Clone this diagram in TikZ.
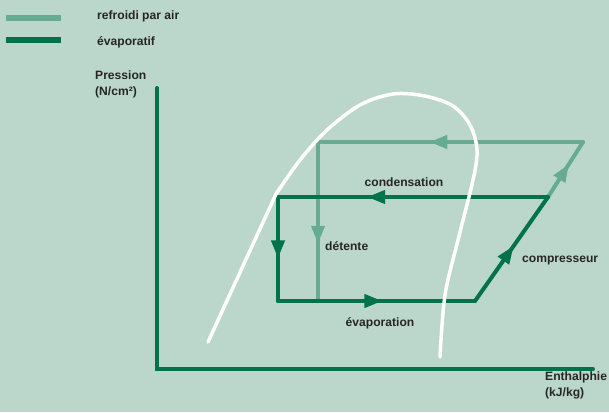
\documentclass[tikz,border=0pt]{standalone}
\usepackage{fontspec}
\setmainfont{Liberation Sans}
\usepackage{tikz}
\usetikzlibrary{arrows.meta, decorations.markings}
\definecolor{bgGreen}{HTML}{BBD7CB}
\definecolor{darkGreen}{HTML}{00734A}
\definecolor{lightGreen}{HTML}{66AB94}
\definecolor{labelGray}{HTML}{262626}
\tikzstyle{label_text} = [inner sep=0pt, text=labelGray, font=\fontsize{12.1}{16}\selectfont\bfseries, align=left]
\tikzstyle{dark_line} = [draw, color=darkGreen, line width=4pt, line cap=round]
\tikzstyle{light_line} = [draw, color=lightGreen, line width=4pt, line cap=round]
\tikzstyle{axis_line} = [draw, color=darkGreen, line width=4pt, line cap=round]
\tikzstyle{sat_curve} = [draw=white, line width=3.5pt, line cap=round, line join=round]
\tikzset{midarrow/.style={postaction={decorate, decoration={markings, mark=at position #1 with {\arrow{Triangle[length=18pt,width=13pt]}}}}}}

\begin{document}
\begin{tikzpicture}[x=1pt, y=-1pt]
    \useasboundingbox (0,0) rectangle (609,412);
    \fill[bgGreen] (0,0) rectangle (609,412);
    % Legend
    \coordinate (leg_air_a) at (6,18);
    \coordinate (leg_air_b) at (61,18);
    \coordinate (leg_evap_a) at (6,40);
    \coordinate (leg_evap_b) at (61,40);
    \draw [color=lightGreen, line width=5.5pt] (leg_air_a) -- (leg_air_b);
    \draw [color=darkGreen, line width=5.5pt] (leg_evap_a) -- (leg_evap_b);
    \node (leg_air) [label_text, anchor=base west] at (97,20) {refroidi par air};
    \node (leg_evap) [label_text, anchor=base west] at (97,45.5) {évaporatif};
    % Axes
    \coordinate (origin) at (157,369);
    \coordinate (y_top) at (157,88);
    \coordinate (x_end) at (593,369);
    \draw [axis_line] (y_top) -- (origin) -- (x_end);
    \node (y_label) [label_text, anchor=base west] at (95,95) {Pression\\(N/cm²)};
    \node (x_label) [label_text, anchor=base west] at (545,396) {Enthalphie\\(kJ/kg)};
    % Cycle corners
    \coordinate (d_bl) at (278,301);
    \coordinate (d_br) at (475,301);
    \coordinate (d_tr) at (548,197);
    \coordinate (d_tl) at (278,197);
    \coordinate (l_tr) at (583,142);
    \coordinate (l_tl) at (318,142);
    \coordinate (l_bl) at (318,301);
    % Air cooled cycle
    \draw [light_line, midarrow=0.6] (d_tr) -- (l_tr);
    \draw [light_line, midarrow=0.58] (l_tr) -- (l_tl);
    \draw [light_line, midarrow=0.64] (l_tl) -- (l_bl);
    % Evaporative cycle
    \draw [dark_line, midarrow=0.53] (d_bl) -- (d_br);
    \draw [dark_line, midarrow=0.53] (d_br) -- (d_tr);
    \draw [dark_line, midarrow=0.67] (d_tr) -- (d_tl);
    \draw [dark_line, midarrow=0.59] (d_tl) -- (d_bl);
    % Saturation curve
    \draw [sat_curve] (208,342) -- (276,194) plot [smooth, tension=0.55] coordinates {(276,194) (300,160) (327,130) (360,105) (393,94) (425,96) (453,106) (470,125) (477,150) (473,180) (458,240) (445,295) (440,357)};
    % Labels
    \node (cond) [label_text, anchor=base] at (404,186) {condensation};
    \node (det) [label_text, anchor=base west] at (325,250) {détente};
    \node (comp) [label_text, anchor=base west] at (522,262) {compresseur};
    \node (evap) [label_text, anchor=base] at (380,326) {évaporation};
\end{tikzpicture}
\end{document}
